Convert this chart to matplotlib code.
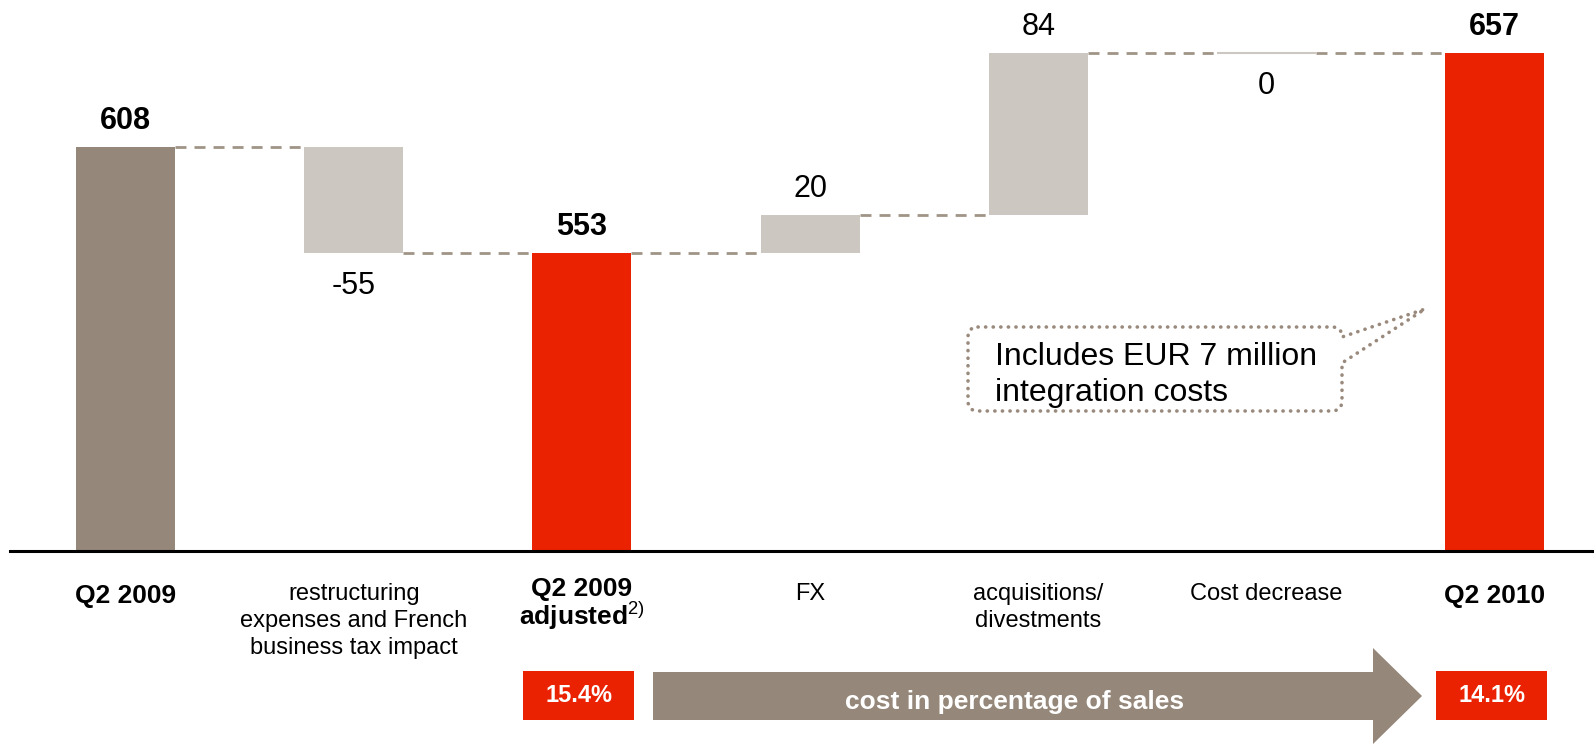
import matplotlib
matplotlib.use("Agg")
import matplotlib.pyplot as plt
import matplotlib.transforms as mtransforms
from matplotlib.patches import Rectangle, Polygon, PathPatch
from matplotlib.path import Path

plt.rcParams['font.family'] = ['Liberation Sans', 'DejaVu Sans']
plt.rcParams['mathtext.fontset'] = 'custom'
plt.rcParams['mathtext.rm'] = 'Liberation Sans'
plt.rcParams['mathtext.bf'] = 'Liberation Sans:bold'

# data
categories = ["Q2 2009",
              "restructuring\nexpenses and French\nbusiness tax impact",
              "Q2 2009\nadjusted",
              "FX",
              "acquisitions/\ndivestments",
              "Cost decrease",
              "Q2 2010"]
values = [608, -55, 553, 20, 84, 0, 657]
is_total = [True, False, True, False, False, False, True]
pct_labels = ["15.4%", "14.1%"]
pct_pos = [2, 6]
arrow_text = "cost in percentage of sales"
note_text = "Includes EUR 7 million\nintegration costs"

BROWN = '#958779'
LIGHT = '#ccc7c0'
RED = '#ea2202'
DASH = '#a09486'

floor = 398  # axis is cut here
bottoms, heights, levels = [], [], []
running = 0
for v, t in zip(values, is_total):
    if t:
        bottoms.append(floor)
        heights.append(v - floor)
        running = v
    else:
        bottoms.append(running)
        heights.append(v)
        running += v
    levels.append(running)

colors = [BROWN, LIGHT, RED, LIGHT, LIGHT, LIGHT, RED]
edges = [LIGHT if h == 0 else 'none' for h in heights]

fig = plt.figure(figsize=(15.94, 7.44), dpi=100)
ax = fig.add_axes([0, 0, 1, 1])
ax.set_xlim(-0.55, 6.435)
ax.set_ylim(297.7, 684.6)
ax.axis('off')

# overlay in pixel coords (y from top)
ov = fig.add_axes([0, 0, 1, 1])
ov.set_xlim(0, 1594)
ov.set_ylim(744, 0)
ov.axis('off')
trans = mtransforms.blended_transform_factory(ax.transData, ov.transData)

w = 0.434
x = list(range(len(values)))
ax.bar(x, heights, width=w, bottom=bottoms, color=colors,
       edgecolor=edges, linewidth=1.5, zorder=2)

ov.plot([10, 1594], [551, 551], color='black', lw=2.2, zorder=3)

for i in range(len(values) - 1):
    ax.plot([i + w / 2, i + 1 - w / 2], [levels[i], levels[i]],
            color=DASH, lw=2, linestyle=(0, (3.95, 2.9)), zorder=1)

for i, v in enumerate(values):
    weight = 'bold' if is_total[i] else 'normal'
    if is_total[i] or v > 0:
        ax.annotate(str(v), (i, levels[i]), xytext=(0, 13), textcoords='offset points',
                    ha='center', va='baseline', fontsize=22, fontweight=weight)
    else:
        ax.annotate(str(v), (i, levels[i]), xytext=(0, -13), textcoords='offset points',
                    ha='center', va='top', fontsize=22, fontweight=weight)

# category labels
for i, cat in enumerate(categories):
    if i == 2:
        first = cat.split("\n")[0]
        ov.text(i, 577, first, transform=trans, ha='center', va='top',
                fontsize=19, fontweight='bold')
        ov.text(i, 625, r"$\mathbf{adjusted}^{\mathrm{2)}}$", transform=trans,
                ha='center', va='baseline', fontsize=19)
    elif is_total[i]:
        ov.text(i, 584, cat, transform=trans, ha='center', va='top',
                fontsize=19, fontweight='bold')
    else:
        ov.text(i, 583, cat, transform=trans, ha='center', va='top',
                fontsize=17, linespacing=1.3)

# percentage boxes
for lab, p in zip(pct_labels, pct_pos):
    ov.add_patch(Rectangle((p - 0.013 - 0.243, 671), 0.486, 49, transform=trans,
                           facecolor=RED, edgecolor='none'))
    ov.text(p - 0.013, 696, lab, transform=trans, ha='center', va='center',
            fontsize=17, fontweight='bold', color='white')

# arrow
arrow = Polygon([(653, 672), (1373, 672), (1373, 648), (1422, 696),
                 (1373, 744), (1373, 720), (653, 720)],
                closed=True, facecolor=BROWN, edgecolor='none')
ov.add_patch(arrow)
ov.text(1015, 702, arrow_text, ha='center', va='center', fontsize=19,
        fontweight='bold', color='white')

# callout
L, R, T, B, r = 968, 1342, 327, 411, 10
tip = (1425, 309)
verts = [(L + r, T), (R - r, T), (R, T), (R, T + r), tip, (R, 363), (R, B - r),
         (R, B), (R - r, B), (L + r, B), (L, B), (L, B - r), (L, T + r), (L, T), (L + r, T)]
codes = [Path.MOVETO, Path.LINETO, Path.CURVE3, Path.CURVE3, Path.LINETO, Path.LINETO,
         Path.LINETO, Path.CURVE3, Path.CURVE3, Path.LINETO, Path.CURVE3, Path.CURVE3,
         Path.LINETO, Path.CURVE3, Path.CURVE3]
callout = PathPatch(Path(verts, codes), facecolor='none', edgecolor='#998a7d',
                    lw=2.6, linestyle=(0, (0.05, 2.05)))
callout.set_capstyle('round')
ov.add_patch(callout)
ov.text(995, 342, note_text, ha='left', va='top', fontsize=23, linespacing=1.28)

fig.savefig("out.png", dpi=100)
